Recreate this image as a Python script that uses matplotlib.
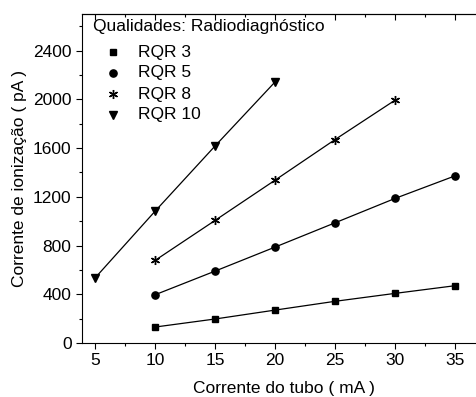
import numpy as np
import matplotlib
matplotlib.use('Agg')
import matplotlib.pyplot as plt
from matplotlib.ticker import MultipleLocator

plt.rcParams['font.family'] = ['Liberation Sans', 'DejaVu Sans']
plt.rcParams['font.size'] = 12.5

# tube current (mA) and ionization current (pA)
x_rqr3 = [10, 15, 20, 25, 30, 35]
y_rqr3 = [131, 197, 270, 342, 407, 470]

x_rqr5 = [10, 15, 20, 25, 30, 35]
y_rqr5 = [396, 590, 787, 986, 1186, 1371]

x_rqr8 = [10, 15, 20, 25, 30]
y_rqr8 = [678, 1006, 1336, 1669, 1992]

x_rqr10 = [5, 10, 15, 20]
y_rqr10 = [535, 1082, 1617, 2142]

labels = ['RQR 3', 'RQR 5', 'RQR 8', 'RQR 10']
xticks = [5, 10, 15, 20, 25, 30, 35]
yticks = [0, 400, 800, 1200, 1600, 2000, 2400]

W, H = 477, 397
AX_L, AX_R, AX_T, AX_B = 82, 486, 14, 343
fig = plt.figure(figsize=(W / 100, H / 100), dpi=100)
# axes runs past the right edge like the cropped original
ax = fig.add_axes([AX_L / W, 1 - AX_B / H, (AX_R - AX_L) / W, (AX_B - AX_T) / H])


def axfrac(px, py):
    return (px - AX_L) / (AX_R - AX_L), 1 - (py - AX_T) / (AX_B - AX_T)


asterisk = (6, 2, 0)
styles = [('s', 4.5), ('o', 5.2), (asterisk, 6.5), ('v', 6)]
series = [(x_rqr3, y_rqr3), (x_rqr5, y_rqr5), (x_rqr8, y_rqr8), (x_rqr10, y_rqr10)]

for (xs, ys), (mk, ms) in zip(series, styles):
    ax.plot(xs, ys, '-', color='black', lw=0.9, marker=mk, ms=ms,
            mfc='black', mec='black', mew=1.0)

ax.set_xlim(3.9, 37.6)
ax.set_ylim(0, 2700)
ax.set_xticks(xticks)
ax.set_yticks(yticks)
ax.xaxis.set_minor_locator(MultipleLocator(2.5))
ax.yaxis.set_minor_locator(MultipleLocator(200))
ax.tick_params(which='major', direction='out', length=4, width=0.8)
ax.tick_params(which='minor', direction='out', length=2.5, width=0.8)
ax.spines['right'].set_visible(False)

top = ax.secondary_xaxis('top')
top.set_xticks(xticks)
top.xaxis.set_minor_locator(MultipleLocator(2.5))
top.tick_params(which='major', direction='in', length=4, width=0.8, labeltop=False)
top.tick_params(which='minor', direction='in', length=2.5, width=0.8)

ax.set_xlabel('Corrente do tubo ( mA )', labelpad=9)
ax.set_ylabel('Corrente de ionização ( pA )', labelpad=4)

# legend drawn by hand: title, then marker + label rows
tx, ty = axfrac(93, 27)
ax.text(tx, ty, 'Qualidades: Radiodiagnóstico', transform=ax.transAxes,
        ha='left', va='center')
for i, ((mk, ms), lab) in enumerate(zip(styles, labels)):
    mx, my = axfrac(113, 52 + 21 * i)
    lx, _ = axfrac(138, 0)
    ax.plot([mx], [my], ls='none', marker=mk, ms=ms, color='black',
            mfc='black', mec='black', mew=1.0, transform=ax.transAxes,
            clip_on=False)
    ax.text(lx, my, lab, transform=ax.transAxes, ha='left', va='center')

fig.savefig('out.png', dpi=100)
